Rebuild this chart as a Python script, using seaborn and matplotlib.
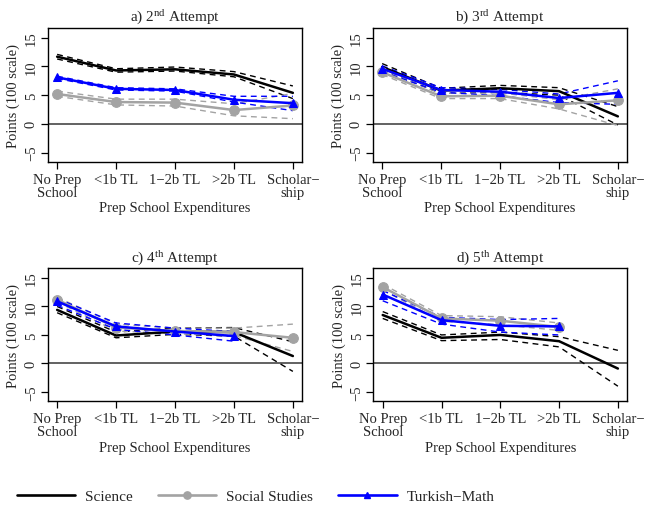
import numpy as np
import pandas as pd
import matplotlib
matplotlib.use("Agg")
import matplotlib.pyplot as plt
from matplotlib.lines import Line2D
import seaborn as sns

sns.set_style("ticks")
plt.rcParams["font.family"] = ["Liberation Serif", "DejaVu Serif"]
plt.rcParams["mathtext.fontset"] = "custom"
plt.rcParams["mathtext.rm"] = "Liberation Serif"
plt.rcParams["mathtext.it"] = "Liberation Serif:italic"

# Expenditure categories on the x axis
categories = ["No Prep\nSchool", "<1b TL", "1\u22122b TL", ">2b TL", "Scholar\u2212\nship"]
nan = np.nan

# Panel titles
titles = [r"a) 2$^{\mathrm{nd}}$ Attempt", r"b) 3$^{\mathrm{rd}}$ Attempt",
          r"c) 4$^{\mathrm{th}}$ Attempt", r"d) 5$^{\mathrm{th}}$ Attempt"]

# Point estimates and 95% bands, one list per attempt
sci_mean = [[11.7, 9.3, 9.5, 8.6, 5.4],
            [9.9, 5.8, 6.2, 5.7, 1.3],
            [9.4, 4.9, 5.6, 5.5, 1.3],
            [8.5, 4.5, 5.0, 3.9, -0.9]]
sci_lo = [[11.3, 9.0, 9.2, 8.2, 4.4],
          [9.4, 5.3, 5.5, 5.0, -0.2],
          [8.9, 4.5, 5.1, 4.8, -1.4],
          [7.9, 4.0, 4.2, 2.9, -4.0]]
sci_hi = [[12.1, 9.6, 9.9, 9.1, 6.6],
          [10.5, 6.2, 6.7, 6.3, 3.0],
          [10.0, 5.5, 6.2, 6.3, 3.8],
          [9.1, 5.0, 5.5, 4.7, 2.3]]

soc_mean = [[5.2, 3.8, 3.7, 2.4, 3.2],
            [9.0, 4.8, 4.9, 3.4, 4.1],
            [11.2, 6.3, 5.7, 5.5, 4.5],
            [13.4, 7.9, 7.5, 6.4, nan]]
soc_lo = [[4.8, 3.3, 3.1, 1.4, 0.9],
          [8.6, 4.4, 4.4, 2.6, -0.3],
          [10.8, 5.7, 5.2, 4.9, 2.1],
          [12.9, 7.4, 6.8, 5.8, nan]]
soc_hi = [[5.7, 4.3, 4.3, 3.5, 5.3],
          [9.4, 5.3, 5.4, 4.2, 6.1],
          [11.6, 6.9, 6.2, 6.2, 6.9],
          [13.9, 8.4, 8.2, 7.1, nan]]

tm_mean = [[8.1, 6.1, 5.9, 4.2, 3.6],
           [9.6, 5.9, 5.6, 4.5, 5.4],
           [10.9, 6.5, 5.6, 4.8, nan],
           [12.1, 7.6, 6.6, 6.5, nan]]
tm_lo = [[7.9, 5.9, 5.7, 3.8, 2.3],
         [9.1, 5.5, 4.9, 3.7, 3.4],
         [10.2, 6.0, 5.0, 3.9, nan],
         [11.0, 6.9, 5.5, 5.0, nan]]
tm_hi = [[8.3, 6.3, 6.1, 4.8, 4.8],
         [10.1, 6.3, 6.0, 5.2, 7.5],
         [11.4, 7.1, 6.2, 5.6, nan],
         [12.8, 8.1, 7.7, 7.9, nan]]

subjects = ["Science", "Social Studies", "Turkish\u2212Math"]
colors = {"Science": "black", "Social Studies": "#A3A3A3", "Turkish\u2212Math": "#0000FF"}
markers = {"Science": None, "Social Studies": "o", "Turkish\u2212Math": "^"}
msize = {"Science": 0, "Social Studies": 7, "Turkish\u2212Math": 6}

series = {"Science": (sci_mean, sci_lo, sci_hi),
          "Social Studies": (soc_mean, soc_lo, soc_hi),
          "Turkish\u2212Math": (tm_mean, tm_lo, tm_hi)}

W, H = 646, 506
fig = plt.figure(figsize=(W / 100, H / 100), dpi=100)

boxes = [(47.7, 29, 302.3, 163), (372.7, 29, 627.3, 163),
         (47.7, 269.3, 302.3, 402.3), (373.3, 269.3, 627.3, 402.3)]

xpos = np.arange(len(categories))
FS = 10.5

for p, (x0, y0, x1, y1) in enumerate(boxes):
    ax = fig.add_axes([x0 / W, 1 - y1 / H, (x1 - x0) / W, (y1 - y0) / H])
    ax.axhline(0, color="#555555", lw=1.3, zorder=1)
    for s in subjects:
        mean, lo, hi = series[s]
        df = pd.DataFrame({"x": xpos, "mean": mean[p], "lo": lo[p], "hi": hi[p]})
        c = colors[s]
        for col in ("lo", "hi"):
            sns.lineplot(data=df, x="x", y=col, ax=ax, color=c, lw=1.0,
                         linestyle=(0, (4.2, 3.2)), estimator=None, sort=False,
                         legend=False, zorder=2)
        kw = {}
        if markers[s]:
            kw = dict(marker=markers[s], markersize=msize[s],
                      markeredgecolor=c, markerfacecolor=c)
        sns.lineplot(data=df, x="x", y="mean", ax=ax, color=c, lw=1.8,
                     estimator=None, sort=False, legend=False, zorder=3, **kw)

    ax.set_xlim(-0.16, 4.16)
    ax.set_ylim(-6.65, 16.7)
    ax.set_xticks(xpos)
    ax.set_xticklabels(categories, fontsize=FS, linespacing=0.95)
    ax.set_yticks([-5, 0, 5, 10, 15])
    ax.set_yticklabels(["\u22125", "0", "5", "10", "15"], fontsize=FS,
                       rotation=90, va="center")
    ax.tick_params(axis="both", direction="out", length=5, width=0.9,
                   color="black", pad=3)
    ax.tick_params(axis="y", pad=2)
    for sp in ax.spines.values():
        sp.set_visible(True)
        sp.set_color("black")
        sp.set_linewidth(1.0)
    ax.set_xlabel("Prep School Expenditures", fontsize=FS, labelpad=2)
    ax.set_ylabel("Points (100 scale)", fontsize=FS)
    ax.yaxis.set_label_coords(-0.108, 0.5)
    ax.set_title(titles[p], fontsize=FS + 0.5, pad=5)

handles = []
for s in subjects:
    c = colors[s]
    handles.append(Line2D([], [], color=c, lw=1.9, marker=markers[s],
                          markersize=msize[s] * 0.75, markeredgecolor=c,
                          markerfacecolor=c))
fig.legend(handles, subjects, loc="center", bbox_to_anchor=(255.5 / W, 1 - 497 / H),
           ncol=3, frameon=False, fontsize=11, handlelength=3.85,
           handletextpad=0.65, columnspacing=1.6, borderpad=0, borderaxespad=0)

fig.savefig("out.png", dpi=100)
